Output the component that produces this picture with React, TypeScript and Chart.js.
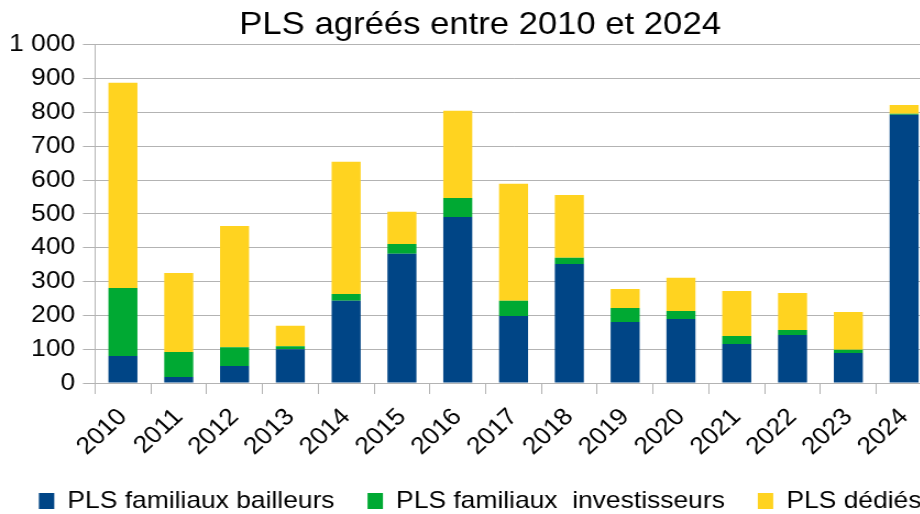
import React, { useEffect, useRef } from 'react';
import { Chart, registerables } from 'chart.js';

Chart.register(...registerables);

const years = ['2010', '2011', '2012', '2013', '2014', '2015', '2016', '2017', '2018', '2019', '2020', '2021', '2022', '2023', '2024'];
const bailleurs = [80, 18, 50, 100, 243, 382, 491, 198, 352, 180, 189, 115, 142, 89, 793];
const investisseurs = [201, 74, 56, 9, 20, 29, 56, 45, 18, 42, 24, 24, 15, 9, 3];
const dedies = [607, 233, 358, 60, 391, 95, 258, 346, 186, 56, 98, 133, 109, 112, 26];
const seriesNames = ['PLS familiaux bailleurs', 'PLS familiaux  investisseurs', 'PLS dédiés'];
const seriesColors = ['#004586', '#00a933', '#ffd320'];
const titleText = 'PLS agréés entre 2010 et 2024';
const yMin = 0;
const yMax = 1000;
const yStep = 100;

const STRETCH = 1.1;
const CANVAS_W = 873;
const CANVAS_H = 514;

function formatThousands(v: number): string {
  return String(v).replace(/\B(?=(\d{3})+(?!\d))/g, ' ');
}

export default function App() {
  const canvasRef = useRef<HTMLCanvasElement | null>(null);

  useEffect(() => {
    const canvas = canvasRef.current;
    if (!canvas) return;
    Chart.defaults.font.family = '"Liberation Sans", Arial, sans-serif';
    Chart.defaults.color = '#000000';
    const grid = '#b3b3b3';
    const chart = new Chart(canvas, {
      type: 'bar',
      data: {
        labels: years,
        datasets: [
          { label: seriesNames[0], data: bailleurs, backgroundColor: seriesColors[0], borderWidth: 0 },
          { label: seriesNames[1], data: investisseurs, backgroundColor: seriesColors[1], borderWidth: 0 },
          { label: seriesNames[2], data: dedies, backgroundColor: seriesColors[2], borderWidth: 0 },
        ],
      },
      options: {
        responsive: false,
        animation: false,
        devicePixelRatio: 1,
        categoryPercentage: 1,
        barPercentage: 0.52,
        layout: { padding: { left: 0, right: 0, top: 0, bottom: -9 } },
        plugins: {
          title: {
            display: true,
            text: titleText,
            color: '#000000',
            font: { size: 31.5, weight: 'normal', lineHeight: 1.2 },
            padding: { top: 6, bottom: 1 },
          },
          legend: {
            position: 'bottom',
            labels: {
              boxWidth: 14,
              boxHeight: 16,
              padding: 30,
              color: '#000000',
              font: { size: 24 },
            },
          },
          tooltip: { enabled: false },
        },
        scales: {
          x: {
            stacked: true,
            offset: true,
            grid: {
              display: true,
              drawOnChartArea: false,
              drawTicks: true,
              tickLength: 11,
              color: grid,
              offset: true,
            },
            border: { display: true, color: grid, width: 1 },
            ticks: {
              maxRotation: 45,
              minRotation: 45,
              autoSkip: false,
              padding: 9,
              color: '#000000',
              font: { size: 24 },
            },
            afterFit: (scale: any) => {
              scale.height = 76;
              scale.paddingRight = 25.7;
            },
          },
          y: {
            stacked: true,
            min: yMin,
            max: yMax,
            grid: {
              display: true,
              drawTicks: true,
              tickLength: 11,
              color: grid,
            },
            border: { display: true, color: grid, width: 1 },
            ticks: {
              stepSize: yStep,
              autoSkip: false,
              padding: 7,
              color: '#000000',
              font: { size: 24 },
              callback: (v: any) => formatThousands(Number(v)),
            },
            afterFit: (scale: any) => {
              scale.width = 86.4;
            },
          },
        },
      },
    });
    return () => chart.destroy();
  }, []);

  return (
    <div
      style={{
        position: 'fixed',
        left: 0,
        top: 0,
        width: 920,
        height: 514,
        overflow: 'hidden',
        background: '#ffffff',
      }}
    >
      <div
        style={{
          width: CANVAS_W,
          height: CANVAS_H,
          transform: `scaleX(${STRETCH})`,
          transformOrigin: '0 0',
        }}
      >
        <canvas
          ref={canvasRef}
          width={CANVAS_W}
          height={CANVAS_H}
          style={{ width: CANVAS_W, height: CANVAS_H, display: 'block' }}
        />
      </div>
    </div>
  );
}
